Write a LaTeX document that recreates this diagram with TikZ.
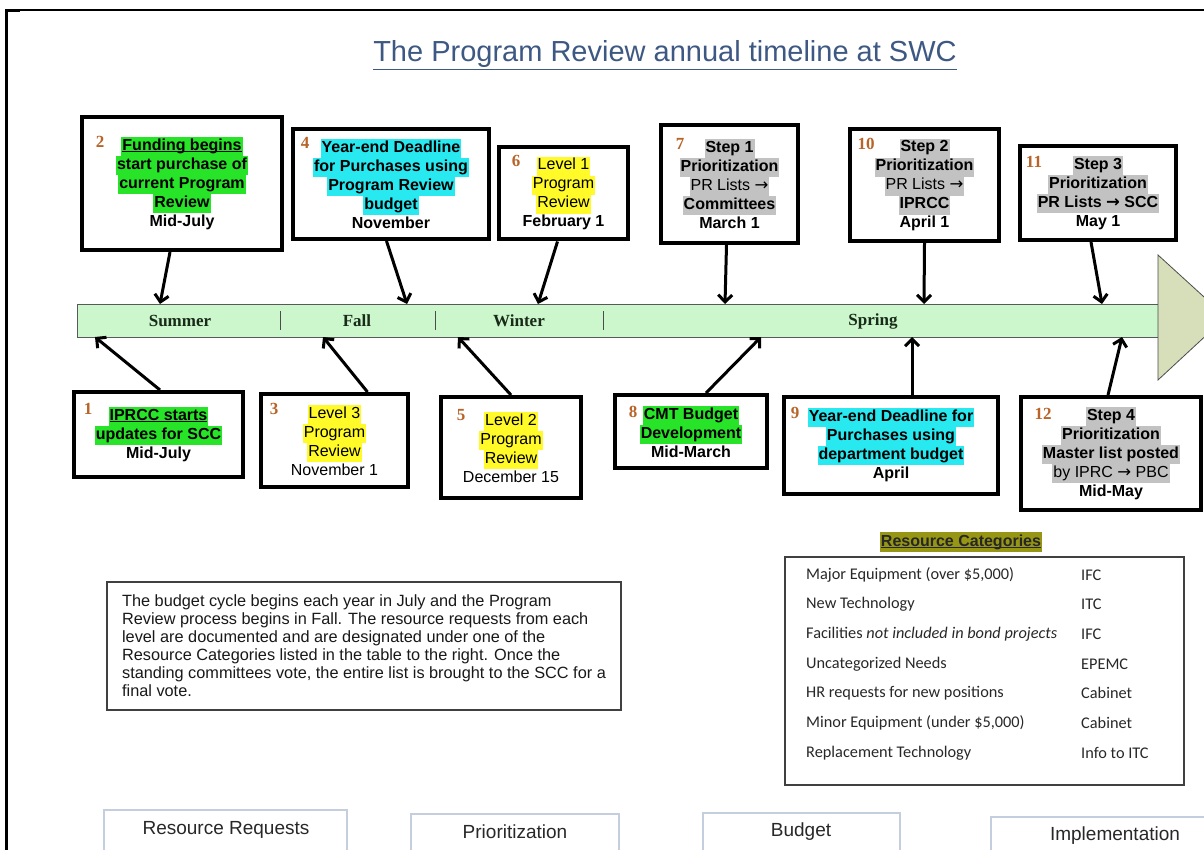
\documentclass[tikz,border=0pt]{standalone}
\usepackage{fontspec}
\setmainfont{Liberation Sans}
\newfontfamily\numfont{Liberation Serif}
\newfontfamily\tabfont{Carlito}
\newfontfamily\arrowfont{DejaVu Sans}
\usepackage{xcolor}
\usetikzlibrary{arrows.meta}

\definecolor{hlgreen}{RGB}{40,228,40}
\definecolor{hlcyan}{RGB}{40,232,240}
\definecolor{hlyellow}{RGB}{255,250,40}
\definecolor{hlgrey}{RGB}{194,194,194}
\definecolor{hlolive}{RGB}{150,150,20}
\definecolor{numbrown}{RGB}{184,100,40}
\definecolor{titleblue}{RGB}{62,88,132}
\definecolor{barfill}{RGB}{204,246,204}
\definecolor{headfill}{RGB}{214,222,186}
\definecolor{seasontext}{RGB}{24,42,24}
\definecolor{btnedge}{RGB}{196,206,222}
\definecolor{darktext}{RGB}{40,40,40}

% highlighted line of text
\newcommand{\hlbox}[2]{{\setlength{\fboxsep}{0pt}\colorbox{#1}{\hspace{1pt}\strut#2\hspace{1pt}}}}
% underline close to the baseline
\newsavebox{\ulbox}
\newcommand{\ulined}[1]{\sbox{\ulbox}{#1}\rlap{\rule[-2pt]{\wd\ulbox}{1.1pt}}\usebox{\ulbox}}
% arrow sign inside the boxes
\newcommand{\toarr}{{\arrowfont\fontsize{16.5}{19}\selectfont →}}

\begin{document}
\begin{tikzpicture}[
x=1pt, y=-1pt,
tbox/.style={draw, line width=4pt, fill=white, align=center, inner sep=2pt, font=\fontsize{16}{19}\selectfont\bfseries},
num/.style={font=\numfont\fontsize{17}{19}\selectfont\bfseries, text=numbrown, inner sep=0pt},
season/.style={font=\numfont\fontsize{17}{19}\selectfont\bfseries, text=seasontext},
sep/.style={draw=black!70, line width=1pt},
arr/.style={-{Straight Barb[length=7pt,width=14pt]}, line width=3pt},
cat/.style={anchor=west, inner sep=0pt, font=\tabfont\fontsize{16.3}{18}\selectfont, text=darktext},
btn/.style={draw=btnedge, line width=1.5pt, fill=white},
btntext/.style={font=\fontsize{19}{22}\selectfont, text=darktext}
]

% Page and frame
\useasboundingbox (0,0) rectangle (1204,850);
\clip (0,0) rectangle (1204,850);
\fill[white] (0,0) rectangle (1204,850);
\draw[line width=2pt] (6,851) -- (6,10) -- (1205,10);
\fill (4.5,9) rectangle (20,12.5);
\fill (4.5,9) rectangle (8,851);

% Title
\node[font=\fontsize{29}{34}\selectfont, text=titleblue] (title) at (665,55)
  {\underline{The Program Review annual timeline at SWC}};

% Timeline bar
\node[draw=black!65, line width=0.8pt, fill=barfill, minimum width=1081, minimum height=33, inner sep=0pt] (bar) at (617.5,320.5) {};
\draw[draw=black!70, line width=0.8pt, fill=headfill] (1158,255) -- (1226,317) -- (1158,380) -- cycle;

\draw[sep] (280,311) -- (280,330);
\draw[sep] (435,311) -- (435,330);
\draw[sep] (603,311) -- (603,330);

\node[season] (summer) at (180,321) {Summer};
\node[season] (fall) at (357,321) {Fall};
\node[season] (winter) at (519,321) {Winter};
\node[season] (spring) at (873,321) {Spring};

% Arrow ends on the bar
\coordinate (t2) at (160,304);
\coordinate (t4) at (407,304);
\coordinate (t6) at (538,304);
\coordinate (t7) at (725,304);
\coordinate (t10) at (924,304);
\coordinate (t11) at (1102,304);
\coordinate (u1) at (95,337);
\coordinate (u3) at (323,337);
\coordinate (u5) at (458,337);
\coordinate (u8) at (761,337);
\coordinate (u9) at (912,337);
\coordinate (u12) at (1122,337);

% Upper boxes
\node[tbox, minimum width=200, minimum height=133] (b2) at (182,183.5)
  {\hlbox{hlgreen}{\ulined{Funding begins}}\\ \hlbox{hlgreen}{start purchase of}\\ \hlbox{hlgreen}{current Program}\\ \hlbox{hlgreen}{Review}\\ Mid-July};
\node[num] (n2) at (100,142) {2};

\node[tbox, minimum width=196, minimum height=110] (b4) at (391,184)
  {\hlbox{hlcyan}{Year-end Deadline}\\ \hlbox{hlcyan}{for Purchases using}\\ \hlbox{hlcyan}{Program Review}\\ \hlbox{hlcyan}{budget}\\ November};
\node[num] (n4) at (305,143) {4};

\node[tbox, minimum width=129, minimum height=92] (b6) at (563.5,193.5)
  {\hlbox{hlyellow}{\mdseries Level 1}\\ \hlbox{hlyellow}{\mdseries Program}\\ \hlbox{hlyellow}{\mdseries Review}\\ February 1};
\node[num] (n6) at (516,161) {6};

\node[tbox, minimum width=137, minimum height=118] (b7) at (729.5,184)
  {\hlbox{hlgrey}{Step 1}\\ \hlbox{hlgrey}{Prioritization}\\ \hlbox{hlgrey}{\mdseries PR Lists \toarr}\\ \hlbox{hlgrey}{Committees}\\ March 1};
\node[num] (n7) at (680,144) {7};

\node[tbox, minimum width=149, minimum height=112] (b10) at (924.5,185)
  {\hlbox{hlgrey}{Step 2}\\ \hlbox{hlgrey}{Prioritization}\\ \hlbox{hlgrey}{\mdseries PR Lists \toarr}\\ \hlbox{hlgrey}{IPRCC}\\ April 1};
\node[num] (n10) at (866,144) {10};

\node[tbox, minimum width=156, minimum height=94] (b11) at (1098,193)
  {\hlbox{hlgrey}{Step 3}\\ \hlbox{hlgrey}{Prioritization}\\ \hlbox{hlgrey}{PR Lists \toarr{} SCC}\\ May 1};
\node[num] (n11) at (1034,162) {11};

% Lower boxes
\node[tbox, minimum width=169, minimum height=85] (b1) at (158.5,434.5)
  {\hlbox{hlgreen}{\ulined{IPRCC starts}}\\ \hlbox{hlgreen}{updates for SCC}\\ Mid-July};
\node[num] (n1) at (88,409) {1};

\node[tbox, minimum width=147, minimum height=93] (b3) at (334.5,440.5)
  {\hlbox{hlyellow}{\mdseries Level 3}\\ \hlbox{hlyellow}{\mdseries Program}\\ \hlbox{hlyellow}{\mdseries Review}\\ {\mdseries November 1}};
\node[num] (n3) at (274,409) {3};

\node[tbox, minimum width=140, minimum height=101] (b5) at (511,447.5)
  {\hlbox{hlyellow}{\mdseries Level 2}\\ \hlbox{hlyellow}{\mdseries Program}\\ \hlbox{hlyellow}{\mdseries Review}\\ {\mdseries December 15}};
\node[num] (n5) at (461,415) {5};

\node[tbox, minimum width=152, minimum height=73] (b8) at (691,431.5)
  {\hlbox{hlgreen}{CMT Budget}\\ \hlbox{hlgreen}{Development}\\ Mid-March};
\node[num] (n8) at (633,412) {8};

\node[tbox, minimum width=214, minimum height=97] (b9) at (891,445)
  {\hlbox{hlcyan}{Year-end Deadline for}\\ \hlbox{hlcyan}{Purchases using}\\ \hlbox{hlcyan}{department budget}\\ April};
\node[num] (n9) at (795,413) {9};

\node[tbox, minimum width=180, minimum height=113] (b12) at (1111,453.5)
  {\hlbox{hlgrey}{Step 4}\\ \hlbox{hlgrey}{Prioritization}\\ \hlbox{hlgrey}{Master list posted}\\ \hlbox{hlgrey}{\mdseries by IPRC \toarr{} PBC}\\ Mid-May};
\node[num] (n12) at (1043,414) {12};

% Arrows to the bar
\draw[arr] ([xshift=-12pt]b2.south) -- (t2);
\draw[arr] ([xshift=-4.5pt]b4.south) -- (t4);
\draw[arr] ([xshift=-6pt]b6.south) -- (t6);
\draw[arr] ([xshift=-3pt]b7.south) -- (t7);
\draw[arr] (b10.south) -- (t10);
\draw[arr] ([xshift=-7pt]b11.south) -- (t11);

\draw[arr] ([xshift=1.5pt]b1.north) -- (u1);
\draw[arr] ([xshift=33pt]b3.north) -- (u3);
\draw[arr] (b5.north) -- (u5);
\draw[arr] ([xshift=15pt]b8.north) -- (u8);
\draw[arr] ([xshift=21pt]b9.north) -- (u9);
\draw[arr] ([xshift=-3pt]b12.north) -- (u12);

% Note
\node[draw=black!75, line width=1.2pt, minimum width=514, minimum height=128, align=left,
  font=\fontsize{16.3}{18}\selectfont, text=black!90] (note) at (364,646)
  {The budget cycle begins each year in July and the Program\\
   Review process begins in Fall. The resource requests from each\\
   level are documented and are designated under one of the\\
   Resource Categories listed in the table to the right. Once the\\
   standing committees vote, the entire list is brought to the SCC for a\\
   final vote.};

% Resource categories
\node[font=\fontsize{16}{20}\selectfont\bfseries, text=black!85] (cathead) at (961,542)
  {\hlbox{hlolive}{\ulined{Resource Categories}}};
\node[draw=black!75, line width=1.2pt, minimum width=399, minimum height=228] (cats) at (984.5,671) {};

\node[cat] (c1) at (806,575) {Major Equipment (over \$5,000)};
\node[cat] (c2) at (806,604) {New Technology};
\node[cat] (c3) at (806,634) {Facilities \textit{not included in bond projects}};
\node[cat] (c4) at (806,664) {Uncategorized Needs};
\node[cat] (c5) at (806,693) {HR requests for new positions};
\node[cat] (c6) at (806,723) {Minor Equipment (under \$5,000)};
\node[cat] (c7) at (806,753) {Replacement Technology};

\node[cat] (g1) at (1081,575) {IFC};
\node[cat] (g2) at (1081,604) {ITC};
\node[cat] (g3) at (1081,634) {IFC};
\node[cat] (g4) at (1081,664) {EPEMC};
\node[cat] (g5) at (1081,693) {Cabinet};
\node[cat] (g6) at (1081,723) {Cabinet};
\node[cat] (g7) at (1081,753) {Info to ITC};

% Phase buttons
\draw[btn] (104,810) rectangle (347,870);
\draw[btn] (411,814) rectangle (619,870);
\draw[btn] (703,813) rectangle (900,870);
\draw[btn] (991,817) rectangle (1215,870);

\node[btntext] (req) at (226,830) {Resource Requests};
\node[btntext] (prio) at (515,832) {Prioritization};
\node[btntext] (budget) at (801,832) {Budget};
\node[btntext] (impl) at (1115,836) {Implementation};

\end{tikzpicture}
\end{document}
